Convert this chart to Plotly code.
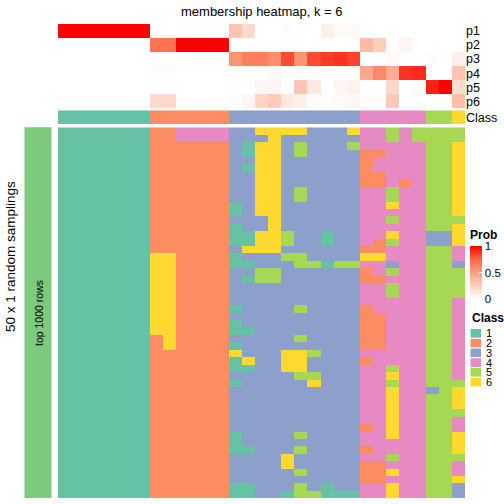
import plotly.graph_objects as go

W, H = 504, 504

# ---------------- data ----------------
prob_labels = ["p1", "p2", "p3", "p4", "p5", "p6"]
p1 = [1, 1, 1, 1, 1, 1, 1, 0, 0, 0, 0, 0, 0,
      0.30, 0.20, 0, 0, 0.02, 0, 0, 0.08, 0.03, 0.03,
      0, 0, 0, 0, 0, 0, 0, 0]
p2 = [0, 0, 0, 0, 0, 0, 0, 0.70, 0.70, 1, 1, 1, 1,
      0, 0, 0, 0, 0, 0, 0, 0, 0, 0,
      0.35, 0.25, 0, 0.05, 0, 0, 0, 0]
p3 = [0, 0, 0, 0, 0, 0, 0, 0, 0, 0, 0, 0, 0,
      0.55, 0.65, 0.65, 0.58, 0.82, 0.55, 0.82, 0.86, 0.88, 0.84,
      0, 0, 0.02, 0, 0, 0.02, 0, 0.08]
p4 = [0, 0, 0, 0, 0, 0, 0, 0.01, 0.01, 0, 0, 0, 0,
      0, 0, 0, 0.03, 0, 0, 0, 0, 0, 0,
      0.45, 0.60, 0.42, 0.88, 0.90, 0, 0, 0.30]
p5 = [0, 0, 0, 0, 0, 0, 0, 0, 0, 0, 0, 0, 0,
      0, 0, 0.04, 0.04, 0, 0.30, 0.12, 0, 0.05, 0.07,
      0, 0, 0.20, 0, 0.03, 0.92, 1.0, 0.18]
p6 = [0, 0, 0, 0, 0, 0, 0, 0.20, 0.20, 0, 0, 0, 0,
      0.02, 0.04, 0.22, 0.27, 0.12, 0.07, 0.02, 0, 0.03, 0.04,
      0.02, 0.02, 0.28, 0, 0, 0, 0, 0.33]

column_class = [1]*7 + [2]*6 + [3]*10 + [4]*5 + [5]*2 + [6]

# 50 random samplings (rows) x 31 samples (columns), class labels
sampling_rows = [
    "1111111" "224444" "3366663336" "44545" "55" "5",
    "1111111" "224444" "3336333333" "44545" "55" "5",
    "1111111" "222222" "3166353335" "44444" "55" "6",
    "1111111" "222222" "3166353333" "22444" "55" "6",
    "1111111" "222222" "3366333333" "24444" "55" "6",
    "1111111" "222222" "3166333333" "24444" "55" "6",
    "1111111" "222222" "3366333333" "22444" "55" "6",
    "1111111" "222222" "3366333333" "22424" "55" "6",
    "1111111" "222222" "3366353333" "44544" "55" "6",
    "1111111" "222222" "3366353333" "44544" "55" "6",
    "1111111" "222222" "1366333333" "44644" "55" "6",
    "1111111" "222222" "1366333333" "44444" "55" "6",
    "1111111" "222222" "3336333333" "44544" "55" "5",
    "1111111" "222222" "1336333333" "44444" "55" "6",
    "1111111" "222222" "1166533133" "44644" "33" "6",
    "1111111" "222222" "1166533133" "42544" "33" "6",
    "1111111" "222222" "3666333333" "22444" "55" "4",
    "1111111" "662222" "1333553333" "66444" "55" "4",
    "1111111" "662222" "1133355155" "44344" "55" "3",
    "1111111" "662222" "3355333333" "24544" "55" "5",
    "1111111" "662222" "3155333333" "22444" "55" "5",
    "1111111" "662222" "3333333333" "44544" "55" "5",
    "1111111" "662222" "3333333333" "44544" "55" "5",
    "1111111" "662222" "3333333333" "44444" "55" "4",
    "1111111" "662222" "1333353333" "24444" "55" "4",
    "1111111" "662222" "3333333333" "22444" "55" "4",
    "1111111" "662222" "1333333333" "22444" "55" "4",
    "1111111" "662222" "1133333333" "22444" "55" "4",
    "1111111" "262222" "3333353333" "22444" "55" "4",
    "1111111" "262222" "1333333333" "22444" "55" "4",
    "1111111" "222222" "6333665333" "44444" "55" "4",
    "1111111" "222222" "1633663333" "24444" "55" "4",
    "1111111" "222222" "1133663333" "44544" "55" "4",
    "1111111" "222222" "3333355333" "44644" "55" "4",
    "1111111" "222222" "1333336333" "44544" "55" "5",
    "1111111" "222222" "3333333333" "44644" "35" "6",
    "1111111" "222222" "3333333333" "44644" "55" "6",
    "1111111" "222222" "3333333333" "44644" "55" "6",
    "1111111" "222222" "3333333333" "44644" "55" "5",
    "1111111" "222222" "3333333333" "44644" "55" "4",
    "1111111" "222222" "3333333333" "24644" "55" "4",
    "1111111" "222222" "1333353333" "44644" "55" "6",
    "1111111" "222222" "1333333333" "44444" "55" "6",
    "1111111" "222222" "1133353333" "24444" "55" "6",
    "1111111" "222222" "3333633333" "44544" "55" "5",
    "1111111" "222222" "3333633333" "22444" "55" "4",
    "1111111" "222222" "3333353333" "22644" "55" "4",
    "1111111" "222222" "3333333333" "22444" "55" "6",
    "1111111" "222222" "1133353133" "44644" "55" "3",
    "1111111" "222222" "1133155111" "44644" "55" "3",
]

class_labels = ["1", "2", "3", "4", "5", "6"]
class_colors = ["#66C2A5", "#FC8D62", "#8DA0CB", "#E78AC3", "#A6D854", "#FFD92F"]
bar_color = "#7FC97F"

# ---------------- helpers ----------------
def py(y):  # pixel y (from top) -> paper
    return 1 - y / H

def px(x):
    return x / W

n_cols = len(column_class)
z_prob = [p1, p2, p3, p4, p5, p6]
z_main = [[int(ch) for ch in r] for r in sampling_rows]

prob_scale = [[0, "#FFFFFF"], [0.25, "rgb(255,207,190)"], [0.5, "rgb(255,158,129)"],
              [0.75, "rgb(255,104,70)"], [1, "#FF0000"]]
disc_scale = []
for i, c in enumerate(class_colors):
    disc_scale.append([i / 6, c])
    disc_scale.append([(i + 1) / 6, c])

FONT = "Liberation Sans, Arial, Helvetica, sans-serif"

fig = go.Figure()

fig.add_trace(go.Heatmap(
    z=z_prob, x=list(range(n_cols)), y=list(range(6)),
    colorscale=prob_scale, zmin=0, zmax=1, xaxis="x", yaxis="y",
    hoverinfo="skip",
    colorbar=dict(
        x=px(470), xanchor="left", y=py(299), yanchor="bottom",
        len=72, lenmode="pixels", thickness=12, thicknessmode="pixels",
        outlinewidth=0, xpad=0, ypad=0,
        tickvals=[0, 0.5, 1], ticktext=["0", "0.5", "1"],
        ticks="inside", ticklen=3, tickcolor="white",
        tickfont=dict(size=11.5, family=FONT, color="black"),
        title=dict(text="<b>Prob</b>", side="top", font=dict(size=12, family=FONT)),
    ),
))

fig.add_trace(go.Heatmap(
    z=[column_class], x=list(range(n_cols)), y=[0],
    colorscale=disc_scale, zmin=0.5, zmax=6.5, showscale=False,
    xaxis="x", yaxis="y2", hoverinfo="skip",
))

fig.add_trace(go.Heatmap(
    z=z_main, x=list(range(n_cols)), y=list(range(len(z_main))),
    colorscale=disc_scale, zmin=0.5, zmax=6.5, showscale=False,
    xaxis="x", yaxis="y3", hoverinfo="skip",
))

xdom = [px(58), px(465)]
fig.update_layout(
    width=W, height=H, autosize=False,
    margin=dict(l=0, r=0, t=0, b=0, pad=0),
    paper_bgcolor="white", plot_bgcolor="white",
    font=dict(family=FONT, color="black"),
    xaxis=dict(domain=xdom, range=[-0.5, n_cols - 0.5], visible=False, fixedrange=True),
    yaxis=dict(domain=[py(108.3), py(24)], range=[5.5, -0.5], side="right",
               tickvals=list(range(6)), ticktext=prob_labels, ticks="",
               showgrid=False, zeroline=False, showline=False,
               tickfont=dict(size=12.5, family=FONT), anchor="x"),
    yaxis2=dict(domain=[py(124), py(110.3)], range=[0.5, -0.5], side="right",
                tickvals=[0], ticktext=["Class"], ticks="",
                showgrid=False, zeroline=False, showline=False,
                tickfont=dict(size=12.5, family=FONT), anchor="x"),
    yaxis3=dict(domain=[py(498), py(127.3)], range=[len(z_main) - 0.5, -0.5],
                visible=False, anchor="x"),
    showlegend=False,
)

shapes = []
# left annotation bar
shapes.append(dict(type="rect", xref="paper", yref="paper",
                   x0=px(24.5), x1=px(51.5), y0=py(498), y1=py(127.3),
                   fillcolor=bar_color, line=dict(width=0), layer="below"))
# class legend boxes
box_top = 328.5
box_h = 9.75
for i, c in enumerate(class_colors):
    shapes.append(dict(type="rect", xref="paper", yref="paper",
                       x0=px(470), x1=px(481.5),
                       y0=py(box_top + (i + 1) * box_h), y1=py(box_top + i * box_h),
                       fillcolor=c, line=dict(width=1, color="white")))
fig.update_layout(shapes=shapes)

annotations = [
    dict(text="membership heatmap, k = 6", x=px(262), y=py(11.5), xref="paper", yref="paper",
         showarrow=False, font=dict(size=13, family=FONT), xanchor="center", yanchor="middle"),
    dict(text="50 x 1 random samplings", x=px(10.5), y=py(256.5), xref="paper", yref="paper",
         showarrow=False, textangle=-90, font=dict(size=13.5, family=FONT),
         xanchor="center", yanchor="middle"),
    dict(text="top 1000 rows", x=px(39), y=py(313), xref="paper", yref="paper",
         showarrow=False, textangle=-90, font=dict(size=10.5, family=FONT),
         xanchor="center", yanchor="middle"),
    dict(text="<b>Class</b>", x=px(469.5), y=py(318), xref="paper", yref="paper",
         showarrow=False, font=dict(size=12, family=FONT), xanchor="left", yanchor="middle"),
]
for i, lab in enumerate(class_labels):
    annotations.append(dict(text=lab, x=px(484), y=py(box_top + (i + 0.5) * box_h),
                            xref="paper", yref="paper", showarrow=False,
                            font=dict(size=11, family=FONT), xanchor="left", yanchor="middle"))
fig.update_layout(annotations=annotations)

fig.write_html("out.html",
               config={"displayModeBar": False, "staticPlot": True},
               post_script="document.body.style.margin='0';document.body.style.overflow='hidden';")
